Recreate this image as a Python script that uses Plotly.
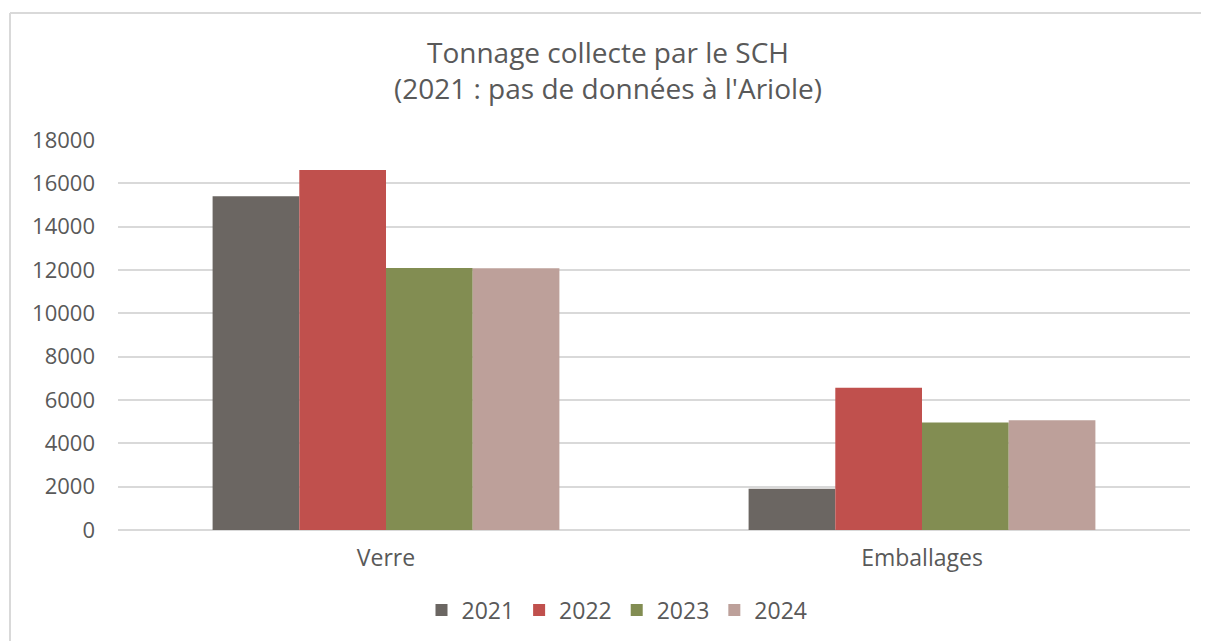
import plotly.graph_objects as go

categories = ["Verre", "Emballages"]
years = ["2021", "2022", "2023", "2024"]
values_2021 = [15400, 1900]
values_2022 = [16620, 6560]
values_2023 = [12090, 4960]
values_2024 = [12080, 5070]
colors = ["#6B6662", "#C0504D", "#828D52", "#BDA09A"]

series = [values_2021, values_2022, values_2023, values_2024]

W, H = 1209, 641
OFF = 8  # page body offset
# target plot area on screen: x 118..1190, y 140..530
L = 118 - OFF
T = 140 - OFF
R = W - (1190 - OFF)
B = H - (530 - OFF)
pw = W - L - R
ph = H - T - B

font_family = "Open Sans, Noto Sans, sans-serif"
txt = "#595959"

fig = go.Figure()
for y, vals, c in zip(years, series, colors):
    fig.add_trace(go.Bar(name=y, x=categories, y=vals, marker=dict(color=c, line=dict(width=0))))

def sx(px):  # screen px -> paper x
    return (px - OFF - L) / pw

def sy(py):  # screen px -> paper y
    return (H - B - (py - OFF)) / ph

border = dict(color="#D9D9D9", width=2)

fig.update_layout(
    width=W, height=H,
    margin=dict(l=L, r=R, t=T, b=B),
    paper_bgcolor="white", plot_bgcolor="white",
    barmode="group", bargap=0.353, bargroupgap=0,
    font=dict(family=font_family, color=txt, size=23),
    title=dict(text="Tonnage collecte par le SCH<br>(2021 : pas de données à l'Ariole)",
               x=(608 - OFF) / W, xref="container", xanchor="center",
               y=1 - (63 - OFF) / H, yref="container", yanchor="middle",
               font=dict(size=28, color=txt, family=font_family)),
    legend=dict(orientation="h", x=sx(617), xanchor="center",
                y=sy(610), yanchor="middle",
                font=dict(size=23, color=txt), itemwidth=30, traceorder="normal"),
    xaxis=dict(showgrid=False, showline=False, ticks="", ticklabelstandoff=12,
               tickfont=dict(size=23, color=txt)),
    yaxis=dict(range=[0, 18000], dtick=2000, showgrid=True, gridcolor="#D9D9D9", gridwidth=1.5,
               zeroline=True, zerolinecolor="#D9D9D9", zerolinewidth=1.5,
               showline=False, ticks="", ticklabelstandoff=22,
               tickfont=dict(size=22, color=txt), tickformat="d"),
    shapes=[
        dict(type="line", xref="paper", yref="paper", x0=sx(10), x1=sx(1300),
             y0=sy(13), y1=sy(13), line=border, layer="below"),
        dict(type="line", xref="paper", yref="paper", x0=sx(10), x1=sx(10),
             y0=sy(13), y1=sy(700), line=border, layer="below"),
    ],
)

fig.write_html("out.html")
